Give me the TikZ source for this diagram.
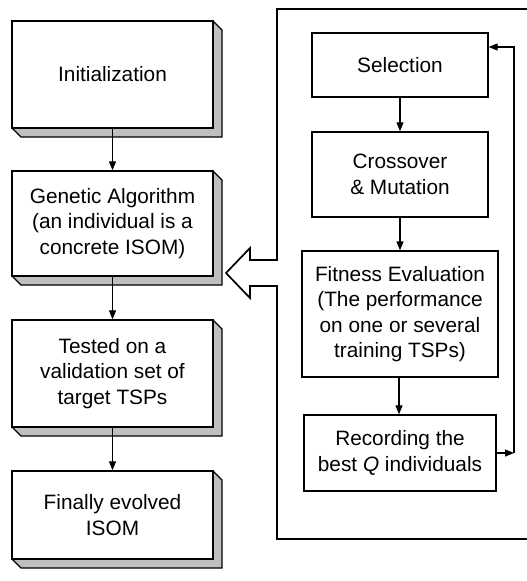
\documentclass[tikz,border=0pt]{standalone}
\usepackage{fontspec}
\setmainfont{Liberation Sans}
\usetikzlibrary{arrows.meta,calc}
\begin{document}
\begin{tikzpicture}[x=1pt,y=-1pt,
  every node/.style={font=\fontsize{20.8}{25.5}\selectfont},
  box/.style={draw=black,line width=1.3pt,fill=white,inner sep=0pt,align=center},
  shade3d/.style={draw=black,line width=1.3pt,fill=gray!50,line join=miter},
  link/.style={draw=black,line width=1.1pt,-{Triangle[length=9pt,width=7pt]}},
  frame/.style={draw=black,line width=1.7pt,line join=miter}
]
\useasboundingbox (0,0) rectangle (527,581);
% left column
\newcommand{\threedbox}[5]{% name, cx, cy, w, h
  \path[shade3d] (#2+#4/2,#3-#5/2) -- ++(9,9) -- ++(0,#5) -- ++(-#4,0) -- ++(-9,-9) -- cycle;
  \node[box,minimum width=#4,minimum height=#5] (#1) at (#2,#3) {};}
\threedbox{init}{112.5}{74.5}{201}{107}
\threedbox{ga}{112.5}{223.5}{201}{105}
\threedbox{test}{112.5}{373.5}{201}{107}
\threedbox{final}{112.5}{515}{201}{88}
\node at (init) {Initialization};
\node[align=center] at (ga) {Genetic Algorithm\\(an individual is a\\concrete ISOM)};
\node[align=center] at (test) {Tested on a\\validation set of\\target TSPs};
\node[align=center] at (final) {Finally evolved\\ISOM};
\draw[link] (init.south) -- (ga.north);
\draw[link] (ga.south) -- (test.north);
\draw[link] (test.south) -- (final.north);
% right column
\node[box,minimum width=176,minimum height=64] (sel) at (400,65) {Selection};
\node[box,minimum width=176,minimum height=85] (cross) at (400,174.5) {Crossover\\\& Mutation};
\node[box,minimum width=196,minimum height=126] (fit) at (400,314) {Fitness Evaluation\\(The performance\\on one or several\\training TSPs)};
\node[box,minimum width=192,minimum height=76] (rec) at (400,453) {Recording the\\best \textit{Q} individuals};
\draw[link] (sel.south) -- (cross.north);
\draw[link] (cross.south) -- (fit.north);
\draw[link] ($(fit.south)+(-1,0)$) -- ($(rec.north)+(-1,0)$);
\coordinate (fbR) at (514,453);
\coordinate (fbT) at (514,47);
\draw[link] (rec.east) -- (fbR);
\draw[link] (fbR) -- (fbT) -- (sel.east |- fbT);
% frame with hollow arrow
\coordinate (tip) at (226,273);
\draw[frame] (527,9) -- (277,9) -- (277,260) -- (250,260) -- (250,248) -- (tip)
  -- (250,298) -- (250,286) -- (277,286) -- (277,539) -- (527,539);
\end{tikzpicture}
\end{document}
